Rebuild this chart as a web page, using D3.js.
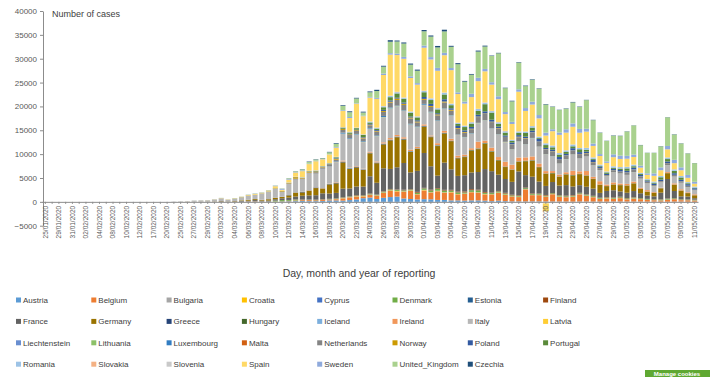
<!DOCTYPE html>
<html>
<head>
<meta charset="utf-8">
<script src="https://cdn.jsdelivr.net/npm/d3@7"></script>
<style>
  body { margin: 0; background: #fff; }
  text { font-family: "Liberation Sans Narrow", "Liberation Sans", Arial, sans-serif; }
</style>
</head>
<body>
<div id="chart"></div>
<script>
// reporting dates (day/month, year 2020)
var dates = ("25/01 28/01 29/01 30/01 31/01 01/02 02/02 03/02 04/02 07/02 08/02 09/02 10/02 11/02 12/02 14/02 17/02 18/02 20/02 22/02 25/02 26/02 " +
  "27/02 28/02 29/02 01/03 02/03 03/03 04/03 05/03 06/03 07/03 08/03 09/03 10/03 11/03 12/03 13/03 14/03 15/03 16/03 17/03 18/03 19/03 20/03 " +
  "21/03 22/03 23/03 24/03 25/03 26/03 27/03 28/03 29/03 30/03 31/03 01/04 02/04 03/04 04/04 05/04 06/04 07/04 08/04 09/04 10/04 11/04 12/04 " +
  "13/04 14/04 15/04 16/04 17/04 18/04 19/04 20/04 21/04 22/04 23/04 24/04 25/04 26/04 27/04 28/04 29/04 30/04 01/05 02/05 03/05 04/05 05/05 " +
  "06/05 07/05 08/05 09/05 10/05 11/05").split(" ");

var yTicks = [-5000, 0, 5000, 10000, 15000, 20000, 25000, 30000, 35000, 40000];

// legend / stacking order (bottom to top)
var countries = ["Austria","Belgium","Bulgaria","Croatia","Cyprus","Denmark","Estonia","Finland",
  "France","Germany","Greece","Hungary","Iceland","Ireland","Italy","Latvia",
  "Liechtenstein","Lithuania","Luxembourg","Malta","Netherlands","Norway","Poland","Portugal",
  "Romania","Slovakia","Slovenia","Spain","Sweden","United_Kingdom","Czechia"];

var colors = ["#5B9BD5","#ED7D31","#A5A5A5","#FFC000","#4472C4","#70AD47","#255E91","#9E480E",
  "#636363","#997300","#264478","#43682B","#7CAFDD","#F1975A","#B7B7B7","#FFCD33",
  "#698ED0","#8CC168","#327DC2","#D26012","#848484","#CC9A00","#335AA1","#5A8A39",
  "#9DC3E6","#F4B183","#C9C9C9","#FFD966","#8FAADC","#A9D18E","#1F4E79"];

// daily cases per country
var Austria = [0,0,0,0,0, 0,0,0,0,0, 0,0,0,0,0, 0,0,0,0,0, 2,0,
  2,2,3,5,10, 8,5,15,20,30, 20,30,30,60,120, 150,200,150,150,200, 300,300,250,370,500, 760,900,600,850,1000, 1100,700,600,500,560, 530,400,400,300,300, 250,300,300,250,150, 250,150,100,100,100, 100,100,80,80,70, 70,50,70,70,60, 60,50,70,70,60, 60,60,40,40,40, 30,50,50,30,30];
var Belgium = [0,0,0,0,0, 0,1,0,0,0, 0,0,0,0,0, 0,0,0,0,0, 0,0,
  0,0,0,0,1, 0,10,20,60,60, 30,30,40,47,85, 120,160,200,170,197, 180,240,460,560,590, 340,530,670,1000,1300, 1050,1400,1700,1050,1800, 1400,1800,1500,1650,1250, 1400,1700,1600,1300,1400, 1600,1300,1000,900,2500, 1300,1300,1000,1500,1000, 900,1000,1500,1200,900, 550,650,550,700,450, 600,500,350,300,250, 400,500,300,300,250];
var Bulgaria = [0,0,0,0,0, 0,0,0,0,0, 0,0,0,0,0, 0,0,0,0,0, 0,0,
  0,0,0,0,0, 0,0,0,0,0, 4,0,2,0,1, 16,0,10,10,20, 20,30,20,30,20, 20,30,20,30,30, 30,40,20,20,40, 40,30,40,40,20, 40,30,40,40,30, 40,30,30,40,40, 40,50,30,40,40, 50,40,60,40,50, 40,40,40,30,40, 50,30,40,30,30, 40,40,30,30,40];
var Croatia = [0,0,0,0,0, 0,0,0,0,0, 0,0,0,0,0, 0,0,0,0,0, 1,2,
  2,1,0,0,0, 1,0,1,2,0, 1,0,3,1,4, 12,5,9,7,6, 10,25,50,30,70, 80,70,60,70,80, 90,70,80,60,90, 70,90,60,70,70, 50,40,60,60,40, 60,50,30,40,40, 30,30,20,20,20, 20,20,20,10,20, 10,10,10,10,10, 10,10,5,5,5, 5,5,5,3,3];
var Cyprus = [0,0,0,0,0, 0,0,0,0,0, 0,0,0,0,0, 0,0,0,0,0, 0,0,
  0,0,0,0,0, 0,0,0,0,0, 0,2,0,0,4, 0,10,6,12,7, 10,20,20,20,20, 20,30,20,30,20, 30,20,20,20,30, 30,20,20,20,20, 20,20,20,20,10, 10,10,10,10,10, 10,10,10,5,5, 5,5,5,5,5, 5,5,5,5,5, 5,5,3,3,3, 3,3,3,3,3];
var Denmark = [0,0,0,0,0, 0,0,0,0,0, 0,0,0,0,0, 0,0,0,0,0, 0,0,
  0,0,0,0,1, 2,5,10,10,13, 17,15,172,250,160, 160,30,65,60,40, 50,90,80,100,80, 80,60,90,150,150, 200,150,140,240,280, 280,370,300,250,300, 200,330,350,200,200, 200,180,180,150,170, 170,150,150,140,200, 130,170,130,160,150, 150,120,150,150,160, 150,140,130,110,130, 150,130,100,100,90];
var Estonia = [0,0,0,0,0, 0,0,0,0,0, 0,0,0,0,0, 0,0,0,0,0, 0,0,
  1,0,0,0,0, 0,1,1,3,3, 2,0,3,7,2, 12,30,40,20,40, 40,30,30,40,30, 30,60,80,20,30, 60,40,30,30,40, 40,50,50,40,30, 20,30,30,40,20, 30,20,10,20,30, 20,20,20,10,10, 10,20,20,10,10, 10,10,10,10,10, 10,10,5,5,5, 5,5,5,5,5];
var Finland = [0,0,0,1,0, 0,0,0,0,0, 0,0,0,0,0, 0,0,0,0,0, 0,0,
  1,0,0,0,2, 3,1,0,2,3, 0,3,10,10,20, 50,70,30,40,80, 30,40,60,50,100, 70,80,60,80,90, 80,120,80,170,100, 170,130,150,150,150, 200,200,150,160,80, 100,150,130,120,110, 100,90,130,60,70, 120,110,90,70,80, 50,100,90,100,70, 80,50,50,60,60, 60,40,60,50,40];
var France = [3,0,1,0,1, 0,0,0,0,1, 5,0,0,0,1, 1,0,0,0,0, 2,4,
  20,20,40,30,100, 60,80,140,140,260, 190,190,290,370,500, 600,780,830,920,1200, 1100,1100,1800,1600,1800, 1800,3600,2400,4800,4200, 4600,5600,3500,4400,7300, 4900,2600,5700,4300,3300, 3400,3500,3700,4800,4500, 3400,2900,2700,5000,2600, 3500,2500,1900,2300,2000, 2200,1800,1600,1600,1500, 1000,1300,1500,1100,1100, 1300,1000,700,600,1400, 4100,1500,600,600,300];
var Germany = [0,4,0,1,0, 1,2,2,0,2, 0,0,0,1,0, 0,0,0,0,0, 2,14,
  10,30,30,50,60, 30,70,120,200,200, 150,280,300,280,450, 800,700,1000,1500,1000, 1900,2000,5500,4100,4000, 3500,4800,4100,5000,6000, 6300,4900,4300,4600,5500, 6100,6200,6100,5900,3700, 3800,4600,4800,5300,4100, 3000,2500,2500,2000,2900, 3300,3000,2500,1800,1800, 2200,2300,2300,2300,2000, 1700,1000,1200,1300,1500, 1600,900,800,700,900, 1200,1300,1200,700,600];
var Greece = [0,0,0,0,0, 0,0,0,0,0, 0,0,0,0,0, 0,0,0,0,0, 0,1,
  2,1,0,4,1, 0,2,3,4,5, 2,7,15,20,60, 40,90,40,100,20, 70,80,100,80,100, 70,50,80,70,70, 70,90,80,50,100, 50,80,80,60,60, 60,40,40,40,40, 30,30,20,20,20, 20,20,10,10,10, 10,10,20,20,10, 10,20,10,10,10, 10,10,10,10,10, 10,20,10,10,5];
var Hungary = [0,0,0,0,0, 0,0,0,0,0, 0,0,0,0,0, 0,0,0,0,0, 0,0,
  0,0,0,0,0, 0,0,2,0,3, 0,0,3,3,4, 3,6,2,9,11, 20,15,30,40,20, 20,20,30,40,40, 40,50,50,40,40, 60,60,50,40,50, 70,80,90,100,60, 60,80,70,80,100, 120,60,90,80,90, 80,90,80,70,60, 40,30,40,50,40, 30,20,30,40,40, 30,30,30,30,20];
var Iceland = [0,0,0,0,0, 0,0,0,0,0, 0,0,0,0,0, 0,0,0,0,0, 0,0,
  0,1,0,1,4, 3,5,10,10,20, 10,10,20,20,20, 10,20,10,20,20, 20,50,60,70,70, 60,80,60,90,60, 70,60,60,50,60, 50,60,30,20,30, 30,20,30,20,30, 10,10,10,10,10, 10,5,5,5,5, 5,3,3,3,3, 2,2,2,2,2, 1,1,1,1,1, 1,1,1,1,1];
var Ireland = [0,0,0,0,0, 0,0,0,0,0, 0,0,0,0,0, 0,0,0,0,0, 0,0,
  0,0,1,1,0, 1,0,5,6,5, 5,5,10,15,10, 20,20,40,40,50, 70,100,200,100,120, 100,200,200,250,300, 300,300,300,300,300, 200,400,400,400,400, 350,350,1400,500,700, 600,1000,1000,800,700, 800,700,500,400,400, 400,900,500,900,400, 700,300,400,300,300, 350,200,300,150,100, 200,250,250,150,200];
var Italy = [0,0,0,0,2, 0,0,0,0,1, 0,0,0,0,0, 0,0,0,3,60, 93,93,
  230,250,240,400,560, 340,470,590,770,780, 1250,1490,1800,980,2310, 2650,2550,3500,2820,4000, 3530,4210,5600,5990,6560, 5560,4790,5250,5210,6150, 5960,5500,5220,4050,4050, 4780,4670,4590,4810,4320, 3600,3040,3840,4200,3950, 4690,4090,3150,3300,2670, 3790,3490,3490,3050,2260, 2730,3370,2650,3020,2360, 2320,1740,2090,2090,1870, 1970,1900,1390,1220,1080, 1440,1400,1330,1080,800];
var Latvia = [0,0,0,0,0, 0,0,0,0,0, 0,0,0,0,0, 0,0,0,0,0, 0,0,
  0,0,0,0,1, 0,0,1,0,1, 0,3,1,2,6, 10,10,10,10,10, 10,20,20,20,10, 20,20,20,20,20, 30,20,20,30,30, 20,20,20,20,20, 20,20,20,20,10, 10,20,10,10,10, 10,10,10,10,10, 10,10,10,10,10, 5,5,10,5,5, 10,5,5,5,5, 5,5,5,5,5];
var Liechtenstein = [0,0,0,0,0, 0,0,0,0,0, 0,0,0,0,0, 0,0,0,0,0, 0,0,
  0,0,0,0,0, 0,0,0,0,0, 0,0,0,1,0, 2,0,1,2,1, 3,4,6,3,5, 3,5,4,4,2, 2,3,2,3,1, 2,1,2,1,1, 1,1,0,0,1, 1,0,0,0,0, 0,0,0,0,0, 0,0,0,0,0, 0,0,0,0,0, 0,0,0,0,0, 0,0,0,0,0];
var Lithuania = [0,0,0,0,0, 0,0,0,0,0, 0,0,0,0,0, 0,0,0,0,0, 0,0,
  0,1,0,0,0, 0,0,0,0,0, 0,0,0,2,0, 3,4,2,2,7, 10,20,20,20,30, 50,30,30,50,70, 40,40,40,30,40, 50,40,40,40,30, 30,30,40,30,20, 30,20,40,30,30, 30,20,20,20,20, 20,20,20,10,20, 10,10,10,10,10, 10,10,10,10,10, 10,10,10,10,10];
var Luxembourg = [0,0,0,0,0, 0,0,0,0,0, 0,0,0,0,0, 0,0,0,0,0, 0,0,
  0,0,1,0,0, 0,0,1,1,1, 1,2,2,3,3, 7,13,20,30,30, 60,100,200,130,100, 130,120,150,220,170, 120,100,130,150,160, 120,100,90,80,70, 50,90,50,40,60, 50,40,30,40,40, 40,30,20,40,20, 20,20,20,20,15, 10,10,10,10,10, 10,8,8,5,10, 10,10,10,5,5];
var Malta = [0,0,0,0,0, 0,0,0,0,0, 0,0,0,0,0, 0,0,0,0,0, 0,0,
  0,0,0,0,0, 0,0,0,0,0, 1,2,0,1,2, 5,3,1,10,5, 10,10,20,10,10, 10,10,10,20,10, 10,10,10,10,10, 10,10,10,10,10, 10,10,10,10,10, 10,10,10,10,10, 10,5,5,5,5, 5,5,5,5,5, 3,3,3,3,3, 2,2,2,2,2, 2,2,2,2,2];
var Netherlands = [0,0,0,0,0, 0,0,0,0,0, 0,0,0,0,0, 0,0,0,0,0, 0,0,
  0,1,5,6,8, 5,14,44,44,60, 60,77,56,60,120, 190,155,176,280,280, 290,350,530,640,640, 570,550,800,850,1000, 1170,1100,1100,850,850, 1000,1000,1200,900,1200, 900,800,1200,1300,1300, 1200,1000,950,870,1200, 1100,1000,1000,1000,750, 700,800,900,650,650, 400,170,400,380,500, 500,450,340,200,250, 400,350,300,250,150];
var Norway = [0,0,0,0,0, 0,0,0,0,0, 0,0,0,0,0, 0,0,0,0,0, 0,0,
  1,0,5,5,10, 10,20,30,55,40, 30,30,80,120,100, 300,120,180,140,100, 100,200,200,150,150, 170,150,150,200,200, 300,250,200,200,200, 200,200,200,200,150, 150,100,100,100,100, 80,50,70,100,80, 60,50,50,50,80, 50,40,40,60,40, 30,30,30,30,30, 30,30,20,20,20, 20,20,20,20,15];
var Poland = [0,0,0,0,0, 0,0,0,0,0, 0,0,0,0,0, 0,0,0,0,0, 0,0,
  0,0,0,0,0, 0,1,0,4,1, 5,6,5,5,10, 17,36,21,52,27, 86,104,68,111,98, 115,152,170,224,249, 170,251,193,243,392, 437,244,475,311,435, 325,370,380,437,401, 318,268,380,336,306, 355,545,263,306,545, 313,461,381,300,460, 282,263,285,314,325, 380,286,231,297,307, 345,330,299,317,272];
var Portugal = [0,0,0,0,0, 0,0,0,0,0, 0,0,0,0,0, 0,0,0,0,0, 0,0,
  0,0,0,0,2, 2,2,4,8,12, 9,9,11,18,20, 20,50,80,100,86, 117,200,240,260,320, 460,300,300,550,700, 900,800,800,600,1000, 800,800,1000,650,450, 700,700,800,1500,1500, 600,600,350,500,750, 650,180,600,500,500, 400,400,600,400,200, 150,300,200,300,500, 300,200,100,200,500, 500,500,500,200,100];
var Romania = [0,0,0,0,0, 0,0,0,0,0, 0,0,0,0,0, 0,0,0,0,0, 0,0,
  0,0,1,0,0, 0,0,1,2,3, 6,3,10,15,20, 30,50,40,60,40, 50,60,40,80,60, 70,140,140,180,240, 250,190,220,180,250, 310,220,350,280,190, 250,270,400,300,300, 270,280,190,260,290, 300,290,360,350,310, 330,380,250,370,300, 260,190,330,300,320, 330,240,190,240,260, 340,300,300,230,250];
var Slovakia = [0,0,0,0,0, 0,0,0,0,0, 0,0,0,0,0, 0,0,0,0,0, 0,0,
  0,0,0,0,0, 0,0,0,1,0, 2,0,2,0,3, 11,5,10,30,10, 20,30,30,40,30, 20,30,30,40,40, 40,30,20,50,40, 50,40,40,30,20, 50,60,30,70,40, 60,70,40,30,30, 20,30,20,20,10, 20,10,10,10,10, 10,10,10,10,10, 5,5,5,5,5, 5,5,5,5,5];
var Slovenia = [0,0,0,0,0, 0,0,0,0,0, 0,0,0,0,0, 0,0,0,0,0, 0,0,
  0,0,0,0,0, 0,0,1,2,3, 6,3,10,15,40, 40,45,40,20,25, 30,30,30,40,40, 30,50,60,40,40, 50,50,40,30,40, 40,40,30,30,20, 20,20,20,20,20, 20,20,10,10,10, 10,10,10,10,10, 10,5,5,5,5, 5,3,3,3,3, 3,3,2,2,2, 2,2,2,2,2];
var Spain = [0,0,0,0,0, 0,0,0,0,0, 0,0,0,0,0, 0,0,0,0,0, 1,6,
  5,8,15,20,40, 40,50,60,90,140, 100,170,400,220,580, 870,1270,1400,1900,1400, 1800,1900,3400,2900,5000, 3800,5000,6000,6500,8600, 7700,8100,7000,6600,9000, 8100,7800,7800,7000,6000, 4600,5200,5800,6500,5500, 4800,3500,3300,8300,4300, 4500,3800,1600,3000,3800, 3700,3700,3200,3400,2400, 1800,1800,1900,1700,1700, 1600,1100,900,1200,1200, 1700,1300,1200,900,600];
var Sweden = [0,0,0,0,0, 1,0,0,0,0, 0,0,0,0,0, 0,0,0,0,0, 0,1,
  5,5,5,2,7, 5,15,20,30,60, 40,45,100,170,130, 100,160,100,100,60, 50,150,150,200,100, 100,140,200,300,300, 300,400,350,330,450, 500,600,500,450,350, 400,700,700,500,500, 600,450,450,500,600, 600,700,600,400,500, 700,700,800,600,500, 400,300,600,700,600, 500,400,300,500,600, 700,700,600,600,400];
var United_Kingdom = [0,0,0,0,2, 0,0,0,0,1, 0,0,2,0,0, 0,0,0,0,0, 4,0,
  5,5,5,15,25, 12,50,30,50,50, 50,60,50,70,130, 130,210,340,250,150, 400,650,900,1000,1000, 670,970,1450,1450,2400, 2550,2800,2450,2600,3000, 4300,4300,4500,4450,5900, 4200,4000,5500,4700,5500, 9000,5000,4300,5600,4600, 4600,5500,5900,4700,4700, 4300,4400,4600,6000,4900, 4450,4300,3900,4100,5100, 6100,4300,4300,4300,4400, 6000,5300,5000,4500,3900];
var Czechia = [0,0,0,0,0, 0,0,0,0,0, 0,0,0,0,0, 0,0,0,0,0, 0,0,
  0,0,0,0,3, 0,2,0,7,9, 7,9,9,25,32, 40,60,90,70,60, 90,140,140,190,130, 170,170,250,180,320, 200,220,230,230,260, 230,300,350,200,220, 150,150,200,180,90, 100,90,120,100,110, 100,90,100,70,60, 80,100,80,60,70, 60,40,70,60,50, 40,50,30,30,50, 40,60,50,40,30];

var series = {Austria:Austria, Belgium:Belgium, Bulgaria:Bulgaria, Croatia:Croatia, Cyprus:Cyprus,
  Denmark:Denmark, Estonia:Estonia, Finland:Finland, France:France, Germany:Germany, Greece:Greece,
  Hungary:Hungary, Iceland:Iceland, Ireland:Ireland, Italy:Italy, Latvia:Latvia, Liechtenstein:Liechtenstein,
  Lithuania:Lithuania, Luxembourg:Luxembourg, Malta:Malta, Netherlands:Netherlands, Norway:Norway,
  Poland:Poland, Portugal:Portugal, Romania:Romania, Slovakia:Slovakia, Slovenia:Slovenia, Spain:Spain,
  Sweden:Sweden, United_Kingdom:United_Kingdom, Czechia:Czechia};

countries.forEach(function(c) {
  if (series[c].length !== dates.length) console.error(c + " has " + series[c].length + " values, expected " + dates.length);
});

// one row per date for d3.stack
var table = dates.map(function(d, i) {
  var row = {date: d};
  countries.forEach(function(c) { row[c] = series[c][i] || 0; });
  return row;
});

var width = 710, height = 377;

var svg = d3.select("#chart")
  .append("svg")
    .attr("width", width)
    .attr("height", height);

var x = d3.scaleBand()
  .domain(dates)
  .range([42, 698])
  .paddingInner(0.25)
  .paddingOuter(0.125);

var y = d3.scaleLinear()
  .domain([-5000, 40000])
  .range([225.7, 11]);

var color = d3.scaleOrdinal().domain(countries).range(colors);

// stacked bars
var stacked = d3.stack().keys(countries)(table);

svg.append("g")
  .selectAll("g")
  .data(stacked)
  .enter()
  .append("g")
    .attr("fill", function(d) { return color(d.key); })
  .selectAll("rect")
  .data(function(d) { return d; })
  .enter()
  .append("rect")
    .attr("x", function(d) { return x(d.data.date); })
    .attr("y", function(d) { return y(d[1]); })
    .attr("height", function(d) { return Math.max(0, y(d[0]) - y(d[1])); })
    .attr("width", x.bandwidth());

// Y axis
var yAxis = svg.append("g")
  .attr("transform", "translate(43,0)")
  .call(d3.axisLeft(y).tickValues(yTicks).tickFormat(d3.format("d")).tickSize(3).tickSizeOuter(0).tickPadding(3));
yAxis.select(".domain").attr("stroke", "#8c8c8c");
yAxis.selectAll(".tick line").attr("stroke", "#8c8c8c");
yAxis.selectAll("text").attr("fill", "#595959").style("font-size", "8px");

// highlighted label cell behind 19/04
svg.append("rect")
  .attr("x", x("19/04") + x.bandwidth() / 2 - 3)
  .attr("y", y(0) + 1.5)
  .attr("width", 6)
  .attr("height", 8)
  .attr("fill", "#F7D35A");

// X axis on the zero line
var xAxis = svg.append("g")
  .attr("transform", "translate(0," + y(0) + ")")
  .call(d3.axisBottom(x)
    .tickSize(2)
    .tickSizeOuter(0)
    .tickFormat(function(d, i) { return i % 2 === 0 ? d + "/2020" : ""; }));
xAxis.select(".domain").attr("stroke", "#8c8c8c");
xAxis.selectAll(".tick line").attr("stroke", "#8c8c8c");
xAxis.selectAll("text")
  .attr("transform", "rotate(-90)")
  .attr("text-anchor", "end")
  .attr("x", -4)
  .attr("y", 0)
  .attr("dy", "0.35em")
  .attr("fill", "#595959")
  .style("font-size", "6.5px");

// titles
svg.append("text")
  .attr("x", 52)
  .attr("y", 17)
  .text("Number of cases")
  .attr("fill", "#404040")
  .style("font-size", "9px");

svg.append("text")
  .attr("x", 359)
  .attr("y", 277)
  .attr("text-anchor", "middle")
  .text("Day, month and year of reporting")
  .attr("fill", "#404040")
  .style("font-size", "10.5px");

// legend, 8 per row
var legend = svg.append("g")
  .selectAll("g")
  .data(countries)
  .enter()
  .append("g")
    .attr("transform", function(d, i) {
      return "translate(" + (16 + (i % 8) * 75.3) + "," + (300 + Math.floor(i / 8) * 21.4) + ")";
    });
legend.append("rect")
  .attr("x", 0).attr("y", -2.5)
  .attr("width", 5).attr("height", 5)
  .attr("fill", function(d) { return color(d); });
legend.append("text")
  .attr("x", 7)
  .attr("y", 0)
  .attr("dy", "0.35em")
  .text(function(d) { return d; })
  .attr("fill", "#404040")
  .style("font-size", "8px");

// cookie button peeking in at the bottom right
svg.append("rect")
  .attr("x", 645).attr("y", 370)
  .attr("width", 65).attr("height", 8)
  .attr("fill", "#5FA832");
svg.append("text")
  .attr("x", 677).attr("y", 376)
  .attr("text-anchor", "middle")
  .text("Manage cookies")
  .attr("fill", "#fff")
  .style("font-size", "6px")
  .style("font-weight", "bold");
</script>
</body>
</html>
